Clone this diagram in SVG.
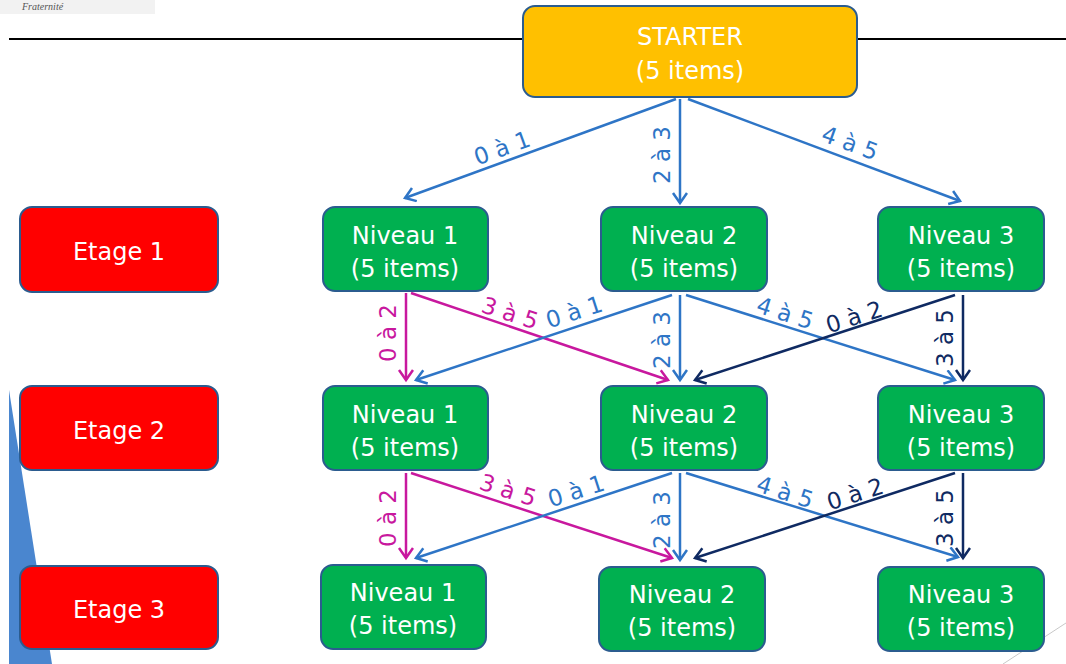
<svg xmlns="http://www.w3.org/2000/svg" width="1066" height="664" viewBox="0 0 1066 664">
<style>
.box{stroke:#2B5C8F;stroke-width:2}
.starter{fill:#FFC000}
.etage{fill:#FF0000}
.niv{fill:#00B050}
.t{font-family:"DejaVu Sans",Verdana,sans-serif;font-size:24px;fill:#FFFFFF;text-anchor:middle}
.lbl{font-family:"DejaVu Sans",Verdana,sans-serif;font-size:23px;text-anchor:middle;dominant-baseline:central}
.blue{stroke:#2E75C6}
.mag{stroke:#C8189E}
.navy{stroke:#0F2A62}
.c{fill:none;stroke-width:2.5}
.cb{fill:#2E75C6}
.cm{fill:#C8189E}
.cn{fill:#0F2A62}
</style>
<defs>
<marker id="ab" markerUnits="userSpaceOnUse" markerWidth="20" markerHeight="20" refX="12" refY="8" orient="auto"><path d="M2,1 L12,8 L2,15" fill="none" stroke="#2E75C6" stroke-width="2.5"/></marker>
<marker id="am" markerUnits="userSpaceOnUse" markerWidth="20" markerHeight="20" refX="12" refY="8" orient="auto"><path d="M2,1 L12,8 L2,15" fill="none" stroke="#C8189E" stroke-width="2.5"/></marker>
<marker id="an" markerUnits="userSpaceOnUse" markerWidth="20" markerHeight="20" refX="12" refY="8" orient="auto"><path d="M2,1 L12,8 L2,15" fill="none" stroke="#0F2A62" stroke-width="2.5"/></marker>
</defs>

<g id="background">
<rect x="0" y="0" width="155" height="14" fill="#F2F2F2"/>
<text x="22" y="10" font-family="Liberation Serif,serif" font-style="italic" font-size="10" fill="#555">Fraternité</text>
<line x1="9" y1="39" x2="1066" y2="39" stroke="#000" stroke-width="2"/>
<polygon points="9,390 52,664 9,664" fill="#4A86CF"/>
<line x1="1003" y1="664" x2="1066" y2="623" stroke="#C8C8C8" stroke-width="1"/>
</g>

<g id="connectors">
<line class="c blue" x1="676" y1="99" x2="405" y2="198" marker-end="url(#ab)"/>
<line class="c blue" x1="680" y1="99" x2="680" y2="203" marker-end="url(#ab)"/>
<line class="c blue" x1="688" y1="99" x2="960" y2="201" marker-end="url(#ab)"/>
<text class="lbl cb" transform="translate(502,148) rotate(-20)">0 à 1</text>
<text class="lbl cb" transform="translate(662,155) rotate(-90)">2 à 3</text>
<text class="lbl cb" transform="translate(850,143) rotate(20)">4 à 5</text>
<line class="c mag" x1="406" y1="293" x2="406" y2="380" marker-end="url(#am)"/>
<line class="c mag" x1="411" y1="293" x2="668" y2="380" marker-end="url(#am)"/>
<line class="c blue" x1="672" y1="295" x2="416" y2="380" marker-end="url(#ab)"/>
<line class="c blue" x1="680" y1="295" x2="680" y2="380" marker-end="url(#ab)"/>
<line class="c blue" x1="686" y1="295" x2="955" y2="380" marker-end="url(#ab)"/>
<line class="c navy" x1="955" y1="295" x2="695" y2="380" marker-end="url(#an)"/>
<line class="c navy" x1="963" y1="295" x2="963" y2="380" marker-end="url(#an)"/>
<text class="lbl cm" transform="translate(388,333) rotate(-90)">0 à 2</text>
<text class="lbl cm" transform="translate(510,313) rotate(18)">3 à 5</text>
<text class="lbl cb" transform="translate(574,312) rotate(-18)">0 à 1</text>
<text class="lbl cb" transform="translate(662,340) rotate(-90)">2 à 3</text>
<text class="lbl cb" transform="translate(785,313) rotate(18)">4 à 5</text>
<text class="lbl cn" transform="translate(854,317) rotate(-18)">0 à 2</text>
<text class="lbl cn" transform="translate(945,338) rotate(-90)">3 à 5</text>
<line class="c mag" x1="406" y1="473" x2="406" y2="558" marker-end="url(#am)"/>
<line class="c mag" x1="411" y1="473" x2="672" y2="558" marker-end="url(#am)"/>
<line class="c blue" x1="672" y1="473" x2="416" y2="558" marker-end="url(#ab)"/>
<line class="c blue" x1="680" y1="473" x2="680" y2="560" marker-end="url(#ab)"/>
<line class="c blue" x1="686" y1="473" x2="958" y2="557" marker-end="url(#ab)"/>
<line class="c navy" x1="955" y1="473" x2="695" y2="558" marker-end="url(#an)"/>
<line class="c navy" x1="963" y1="473" x2="963" y2="558" marker-end="url(#an)"/>
<text class="lbl cm" transform="translate(388,518) rotate(-90)">0 à 2</text>
<text class="lbl cm" transform="translate(508,490) rotate(18)">3 à 5</text>
<text class="lbl cb" transform="translate(576,491) rotate(-18)">0 à 1</text>
<text class="lbl cb" transform="translate(662,520) rotate(-90)">2 à 3</text>
<text class="lbl cb" transform="translate(785,492) rotate(18)">4 à 5</text>
<text class="lbl cn" transform="translate(855,494) rotate(-18)">0 à 2</text>
<text class="lbl cn" transform="translate(945,518) rotate(-90)">3 à 5</text>
</g>

<g id="starter"><rect class="box starter" x="523" y="6" width="334" height="91" rx="12"/><text class="t" x="690" y="45">STARTER</text><text class="t" x="690" y="79">(5 items)</text></g>

<g id="etage1"><rect class="box etage" x="20" y="207" width="198" height="85" rx="12"/><text class="t" x="119" y="260">Etage 1</text></g>
<g id="etage2"><rect class="box etage" x="20" y="386" width="198" height="84" rx="12"/><text class="t" x="119" y="439">Etage 2</text></g>
<g id="etage3"><rect class="box etage" x="20" y="566" width="198" height="83" rx="12"/><text class="t" x="119" y="618">Etage 3</text></g>

<g id="r1n1"><rect class="box niv" x="323" y="207" width="165" height="84" rx="12"/><text class="t" x="405" y="244">Niveau 1</text><text class="t" x="405" y="277">(5 items)</text></g>
<g id="r1n2"><rect class="box niv" x="601" y="207" width="166" height="84" rx="12"/><text class="t" x="684" y="244">Niveau 2</text><text class="t" x="684" y="277">(5 items)</text></g>
<g id="r1n3"><rect class="box niv" x="878" y="207" width="166" height="84" rx="12"/><text class="t" x="961" y="244">Niveau 3</text><text class="t" x="961" y="277">(5 items)</text></g>

<g id="r2n1"><rect class="box niv" x="323" y="386" width="165" height="84" rx="12"/><text class="t" x="405" y="423">Niveau 1</text><text class="t" x="405" y="456">(5 items)</text></g>
<g id="r2n2"><rect class="box niv" x="601" y="386" width="166" height="84" rx="12"/><text class="t" x="684" y="423">Niveau 2</text><text class="t" x="684" y="456">(5 items)</text></g>
<g id="r2n3"><rect class="box niv" x="878" y="386" width="166" height="84" rx="12"/><text class="t" x="961" y="423">Niveau 3</text><text class="t" x="961" y="456">(5 items)</text></g>

<g id="r3n1"><rect class="box niv" x="321" y="565" width="165" height="84" rx="12"/><text class="t" x="403" y="601">Niveau 1</text><text class="t" x="403" y="634">(5 items)</text></g>
<g id="r3n2"><rect class="box niv" x="599" y="567" width="166" height="84" rx="12"/><text class="t" x="682" y="603">Niveau 2</text><text class="t" x="682" y="636">(5 items)</text></g>
<g id="r3n3"><rect class="box niv" x="878" y="567" width="166" height="84" rx="12"/><text class="t" x="961" y="603">Niveau 3</text><text class="t" x="961" y="636">(5 items)</text></g>
</svg>
